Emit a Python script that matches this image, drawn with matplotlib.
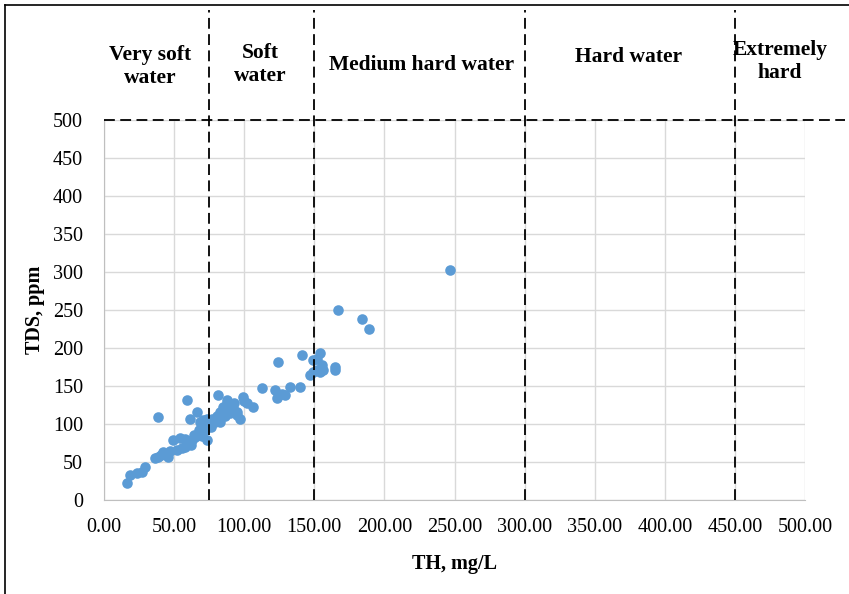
import matplotlib.pyplot as plt
from matplotlib.lines import Line2D

# TH (mg/L) vs TDS (ppm)
th = [16.6, 18.5, 23.3, 26.9, 29.2, 36.4, 38.8, 41.0, 44.7, 45.8,
      38.8, 49.4, 54.2, 55.4, 57.8, 60.1, 62.5, 65.0, 67.3, 69.7,
      72.0, 73.2, 59.4, 61.3, 66.0, 68.5, 70.8, 73.2, 81.5, 80.4,
      82.7, 85.0, 87.5, 89.9, 92.2, 94.6, 97.0, 82.7, 79.2, 99.4,
      101.8, 106.5, 112.5, 122.0, 123.2, 126.7, 129.0, 132.7, 139.8, 124.3,
      141.0, 147.0, 149.3, 151.7, 154.0, 156.4, 155.2, 151.7, 149.3, 154.0,
      164.8, 164.8, 246.8, 167.1, 183.8, 189.3,
      42.0, 47.0, 52.0, 58.0, 64.0, 68.0, 71.0, 74.0, 76.0, 77.0,
      86.0, 90.0, 93.0, 88.0, 95.0, 100.0, 70.0, 62.0]
tds = [22, 33, 36, 37, 44, 55, 57, 59, 59, 57,
       109, 79, 81, 68, 70, 75, 79, 83, 86, 88,
       92, 79, 132, 107, 116, 103, 105, 107, 138, 110,
       116, 123, 127, 125, 121, 116, 107, 103, 103, 136,
       127, 123, 147, 145, 134, 140, 138, 149, 149, 182,
       191, 164, 169, 171, 169, 171, 178, 186, 184, 193,
       175, 171, 303, 250, 238, 225,
       63, 65, 66, 80, 86, 92, 97, 100, 96, 106,
       110, 115, 128, 131, 112, 130, 84, 72]

# hardness class limits and names
limits = [75, 150, 300, 450]
classes = ["Very soft\nwater", "Soft\nwater", "Medium hard water", "Hard water", "Extremely\nhard"]
class_x = [32.8, 111.3, 226.8, 374.5, 482]
class_y = [570, 573, 573, 583, 577]

plt.rcParams['font.family'] = 'Liberation Serif'

fig = plt.figure(figsize=(8.49, 5.94), dpi=100)
ax = fig.add_axes([104/849, 1 - 500/594, 701/849, 380/594])

ax.scatter(th, tds, s=58, color='#5B9BD5', zorder=3, linewidths=0)

ax.set_xlim(0, 500)
ax.set_ylim(0, 500)
ax.set_xticks(range(0, 501, 50))
ax.set_xticklabels([f"{v:.2f}" for v in range(0, 501, 50)])
ax.set_yticks(range(0, 501, 50))
ax.tick_params(length=0, labelsize=14.5)
ax.tick_params(axis='x', pad=13)
ax.tick_params(axis='y', pad=15)
ax.grid(True, color='#D9D9D9', linewidth=1)
ax.set_axisbelow(True)
for side in ['top', 'right']:
    ax.spines[side].set_visible(False)
for side in ['left', 'bottom']:
    ax.spines[side].set_color('#BFBFBF')

# dashed class boundaries
for x in limits:
    ax.plot([x, x], [0, 645], color='black', linestyle=(0, (6, 3)), lw=1.3,
            clip_on=False, zorder=4)
ax.plot([0, 528.5], [500, 500], color='black', linestyle=(0, (6, 3)), lw=1.3,
        clip_on=False, zorder=4)

for name, x, y in zip(classes, class_x, class_y):
    ax.text(x, y, name, ha='center', va='center', fontsize=15.5,
            fontweight='bold', linespacing=1.2)

ax.set_xlabel("TH, mg/L", fontsize=14.5, fontweight='bold', labelpad=12)
ax.set_ylabel("TDS, ppm", fontsize=14.5, fontweight='bold', labelpad=6)

# outer frame of the picture
fig.add_artist(Line2D([5/849, 5/849], [0, 1 - 5/594], color='black', lw=1.2))
fig.add_artist(Line2D([5/849, 1], [1 - 5/594, 1 - 5/594], color='black', lw=1.2))

fig.savefig('out.png', dpi=100)
